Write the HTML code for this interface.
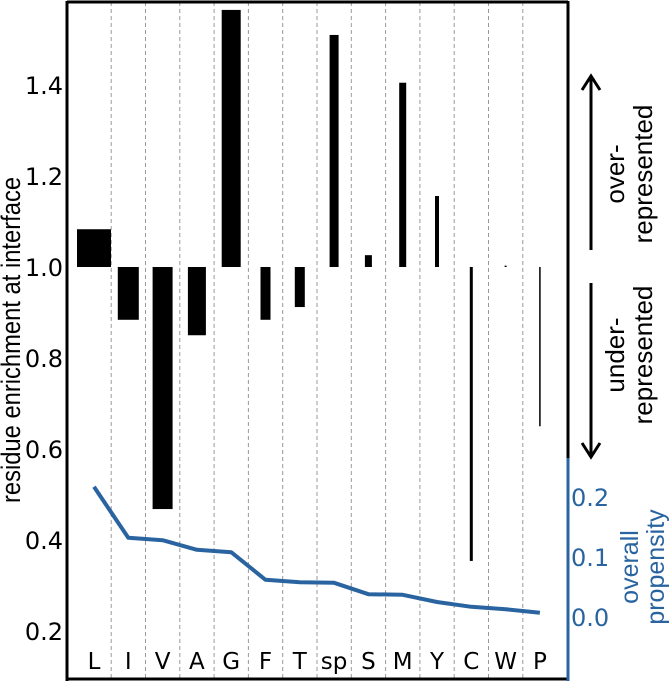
<!DOCTYPE html>
<html><head><meta charset="utf-8"><style>
html,body{margin:0;padding:0;background:#fff;}
svg{display:block;font-family:"DejaVu Sans","Liberation Sans",sans-serif;}
</style></head><body>
<svg id="chart" width="669" height="681">
<g id="grid"></g>
<g id="bars"></g>
<g id="line"></g>
<g id="axes"></g>
</svg>
<script>
const categories=["L","I","V","A","G","F","T","sp","S","M","Y","C","W","P"];
const enrichment=[1.083,0.884,0.468,0.85,1.565,0.884,0.912,1.51,1.026,1.405,1.156,0.354,1.003,0.65];
const barWidths=[34,21,20,18,19,10,10,9,7,7,4,3,2,1.5];
const propensity=[0.217,0.132,0.128,0.112,0.108,0.062,0.058,0.057,0.038,0.037,0.025,0.017,0.013,0.007];
const leftTicks=[0.2,0.4,0.6,0.8,1.0,1.2,1.4];
const rightTicks=[0.0,0.1,0.2];
const NS="http://www.w3.org/2000/svg";
function xC(i){return 94+34.3*i;}
function yL(v){return 267-(v-1)*455;}
function yR(v){return 617-v*600;}
function mk(tag,attrs,parent,text){const e=document.createElementNS(NS,tag);for(const k in attrs)e.setAttribute(k,attrs[k]);if(text!==undefined)e.textContent=text;document.getElementById(parent).appendChild(e);return e;}
for(let i=0;i<categories.length-1;i++){
 const l=mk('line',{x1:xC(i)+17.2,x2:xC(i)+17.2,y1:2,y2:679,stroke:'#999','stroke-width':1,'stroke-dasharray':'4,3'},'grid');
 
 
}
categories.forEach((c,i)=>{
 const v=enrichment[i];const y0=yL(1),y1=yL(v);
 const r=mk('rect',{x:xC(i)-barWidths[i]/2,y:Math.min(y0,y1),width:barWidths[i],height:Math.max(1,Math.abs(y1-y0)),fill:'#000'},'bars');
 
 
 const t=mk('text',{x:xC(i),y:669,'font-size':23,'text-anchor':'middle',fill:'#000'},'axes',c);
 
 
});
const pts=propensity.map((v,i)=>xC(i)+','+yR(v)).join(' ');
const pl=mk('polyline',{points:pts,fill:'none',stroke:'#2a64a0','stroke-width':4,'stroke-linejoin':'round'},'line');


leftTicks.forEach(v=>{
 const t=mk('text',{x:63,y:yL(v)+9,'font-size':24,'text-anchor':'end',fill:'#000'},'axes',v.toFixed(1));
 
 
});
rightTicks.forEach(v=>{
 const t=mk('text',{x:571,y:yR(v)+9,'font-size':24,'text-anchor':'start',fill:'#2a64a0'},'axes',v.toFixed(1));
 
 
});
</script>
<svg style="position:absolute;left:0;top:0" width="669" height="681">
 <line x1="67" y1="2" x2="568" y2="2" stroke="#000" stroke-width="3"/>
 <line x1="67" y1="679" x2="568" y2="679" stroke="#000" stroke-width="3"/>
 <line x1="67" y1="1" x2="67" y2="681" stroke="#000" stroke-width="3"/>
 <line x1="568" y1="1" x2="568" y2="458" stroke="#000" stroke-width="3"/>
 <line x1="568" y1="458" x2="568" y2="681" stroke="#2a64a0" stroke-width="3"/>
 <text transform="translate(20,340) rotate(-90) scale(0.88,1)" font-size="27" text-anchor="middle" font-family="Liberation Sans, sans-serif">residue enrichment at interface</text>
 <text transform="translate(638,567) rotate(-90)" font-size="25" text-anchor="middle" fill="#2a64a0" font-family="Liberation Sans, sans-serif">overall</text>
 <text transform="translate(664,567) rotate(-90)" font-size="25" text-anchor="middle" fill="#2a64a0" font-family="Liberation Sans, sans-serif">propensity</text>
 <g>
  <line x1="591" y1="250" x2="591" y2="78" stroke="#000" stroke-width="3"/>
  <polyline points="582,90 591,76 600,90" fill="none" stroke="#000" stroke-width="3"/>
 </g>
 <g>
  <line x1="591" y1="283" x2="591" y2="455" stroke="#000" stroke-width="3"/>
  <polyline points="582,443 591,457 600,443" fill="none" stroke="#000" stroke-width="3"/>
 </g>
 <text transform="translate(624,174) rotate(-90)" font-size="26" text-anchor="middle" font-family="Liberation Sans, sans-serif">over-</text>
 <text transform="translate(652,174) rotate(-90)" font-size="26" text-anchor="middle" font-family="Liberation Sans, sans-serif">represented</text>
 <text transform="translate(624,355) rotate(-90)" font-size="26" text-anchor="middle" font-family="Liberation Sans, sans-serif">under-</text>
 <text transform="translate(652,355) rotate(-90)" font-size="26" text-anchor="middle" font-family="Liberation Sans, sans-serif">represented</text>
</svg>
</body></html>
